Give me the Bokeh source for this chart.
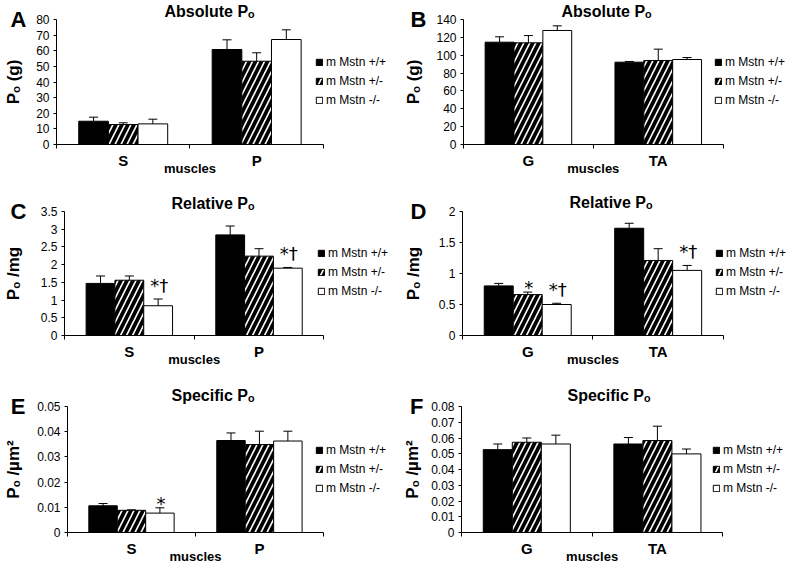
from bokeh.plotting import figure
from bokeh.layouts import column, row
from bokeh.models import (Range1d, FixedTicker, LinearAxis, Legend, LegendItem,
                          Whisker, TeeHead, ColumnDataSource)
from bokeh.core.properties import value
from bokeh.embed import file_html
from bokeh.resources import INLINE

FONT = "Liberation Sans"
SERIES = ["m Mstn +/+", "m Mstn +/-", "m Mstn -/-"]

# ---------------- data ----------------
A_MUSCLES = ["S", "P"]
A_MEAN = [[14.9, 60.8], [12.8, 53.3], [13.2, 67.2]]
A_SEM = [[2.6, 6.2], [1.1, 5.4], [3.0, 6.2]]
A_SIG = [["", ""], ["", ""], ["", ""]]
A_YTICKS = [0, 10, 20, 30, 40, 50, 60, 70, 80]
A_YLABELS = ["0", "10", "20", "30", "40", "50", "60", "70", "80"]

B_MUSCLES = ["G", "TA"]
B_MEAN = [[114.6, 92.2], [113.9, 94.1], [127.7, 95.2]]
B_SEM = [[6.0, 0.8], [8.1, 12.7], [5.2, 2.2]]
B_SIG = [["", ""], ["", ""], ["", ""]]
B_YTICKS = [0, 20, 40, 60, 80, 100, 120, 140]
B_YLABELS = ["0", "20", "40", "60", "80", "100", "120", "140"]

C_MUSCLES = ["S", "P"]
C_MEAN = [[1.47, 2.84], [1.56, 2.24], [0.84, 1.90]]
C_SEM = [[0.21, 0.25], [0.12, 0.21], [0.19, 0.02]]
C_SIG = [["", ""], ["", ""], ["*†", "*†"]]
C_YTICKS = [0, 0.5, 1, 1.5, 2, 2.5, 3, 3.5]
C_YLABELS = ["0", "0.5", "1", "1.5", "2", "2.5", "3", "3.5"]

D_MUSCLES = ["G", "TA"]
D_MEAN = [[0.80, 1.73], [0.66, 1.21], [0.50, 1.05]]
D_SEM = [[0.04, 0.08], [0.04, 0.19], [0.02, 0.08]]
D_SIG = [["", ""], ["*", ""], ["*†", "*†"]]
D_YTICKS = [0, 0.5, 1, 1.5, 2]
D_YLABELS = ["0", "0.5", "1", "1.5", "2"]

E_MUSCLES = ["S", "P"]
E_MEAN = [[0.0106, 0.0365], [0.0088, 0.0349], [0.0077, 0.0363]]
E_SEM = [[0.0009, 0.0030], [0.0002, 0.0053], [0.0021, 0.0039]]
E_SIG = [["", ""], ["", ""], ["*", ""]]
E_YTICKS = [0, 0.01, 0.02, 0.03, 0.04, 0.05]
E_YLABELS = ["0", "0.01", "0.02", "0.03", "0.04", "0.05"]

F_MUSCLES = ["G", "TA"]
F_MEAN = [[0.0526, 0.0562], [0.0573, 0.0584], [0.0562, 0.0499]]
F_SEM = [[0.0036, 0.0041], [0.0027, 0.0091], [0.0056, 0.0031]]
F_SIG = [["", ""], ["", ""], ["", ""]]
F_YTICKS = [0, 0.01, 0.02, 0.03, 0.04, 0.05, 0.06, 0.07, 0.08]
F_YLABELS = ["0", "0.01", "0.02", "0.03", "0.04", "0.05", "0.06", "0.07", "0.08"]

W = 400
BR = 2            # frame runs almost to the right edge (legend lives inside it)
AXIS_END = 322    # x pixel where the category axis ends
LEGEND_X = 311
BAR_W = 2 / 9
OFFSETS = [-2 / 9, 0, 2 / 9]
STYLES = [
    dict(fill_color="black"),
    dict(fill_color="white", hatch_pattern="/", hatch_color="black", hatch_scale=12, hatch_weight=3.8),
    dict(fill_color="white"),
]


def make_panel(letter, title, ylabel, cats, means, sems, sigs, yticks, ylabels,
               h, bl, bt, bb, letter_standoff, title_offset, title_standoff):
    n = len(cats)
    x_end = n * (W - BR - bl) / (AXIS_END - bl)
    p = figure(width=W, height=h, output_backend="svg", toolbar_location=None,
               x_range=Range1d(0, x_end), y_range=Range1d(yticks[0], yticks[-1]),
               min_border_left=bl, min_border_right=BR, min_border_top=bt, min_border_bottom=bb,
               x_axis_type=None, y_axis_type=None, title=title)
    p.outline_line_color = None
    p.background_fill_color = "white"
    p.border_fill_color = "white"

    p.title.align = "left"
    p.title.offset = title_offset
    p.title.standoff = title_standoff
    p.title.vertical_align = "bottom"
    p.title.text_font = FONT
    p.title.text_font_size = "16px"
    p.title.text_font_style = "bold"
    p.title.text_color = "black"

    # value axis (next to the plot area)
    yax = LinearAxis(ticker=FixedTicker(ticks=yticks, minor_ticks=[]),
                     major_label_overrides={t: l for t, l in zip(yticks, ylabels)})
    yax.axis_line_color = "black"
    yax.major_tick_line_color = "black"
    yax.major_tick_out = 3
    yax.major_tick_in = 0
    yax.minor_tick_line_color = None
    yax.major_label_standoff = 4
    yax.major_label_text_font = FONT
    yax.major_label_text_font_size = "12px"
    yax.major_label_text_color = "black"
    p.add_layout(yax, "left")

    # outer axis: carries the panel letter (at the top) and the axis title
    oax = LinearAxis(ticker=FixedTicker(ticks=[yticks[-1]], minor_ticks=[]),
                     major_label_overrides={yticks[-1]: letter}, axis_label=ylabel)
    oax.axis_line_color = None
    oax.major_tick_line_color = None
    oax.minor_tick_line_color = None
    oax.major_tick_out = 0
    oax.major_tick_in = 0
    oax.major_label_standoff = letter_standoff
    oax.major_label_text_font = FONT
    oax.major_label_text_font_size = "22px"
    oax.major_label_text_font_style = "bold"
    oax.major_label_text_color = "black"
    oax.axis_label_text_font = FONT
    oax.axis_label_text_font_size = "17px"
    oax.axis_label_text_font_style = "bold"
    oax.axis_label_text_color = "black"
    oax.axis_label_standoff = -15
    p.add_layout(oax, "left")

    centers = [i + 0.5 for i in range(n)]
    xax = LinearAxis(ticker=FixedTicker(ticks=centers, minor_ticks=list(range(n + 1))),
                     major_label_overrides={c: nm for c, nm in zip(centers, cats)},
                     bounds=(0, n))
    xax.axis_line_color = "black"
    xax.major_tick_line_color = None
    xax.major_tick_out = 0
    xax.major_tick_in = 0
    xax.minor_tick_line_color = "black"
    xax.minor_tick_out = 4
    xax.minor_tick_in = 0
    xax.major_label_standoff = 3
    xax.major_label_text_font = FONT
    xax.major_label_text_font_size = "15px"
    xax.major_label_text_font_style = "bold"
    xax.major_label_text_color = "black"
    p.add_layout(xax, "below")

    # second axis below: the axis title centred under the categories
    mid = n / 2
    tax = LinearAxis(ticker=FixedTicker(ticks=[mid], minor_ticks=[]),
                     major_label_overrides={mid: "muscles"})
    tax.axis_line_color = None
    tax.major_tick_line_color = None
    tax.minor_tick_line_color = None
    tax.major_tick_out = 0
    tax.major_tick_in = 0
    tax.major_label_standoff = -11
    tax.major_label_text_font = FONT
    tax.major_label_text_font_size = "13px"
    tax.major_label_text_font_style = "bold"
    tax.major_label_text_color = "black"
    p.add_layout(tax, "below")

    items = []
    for si in range(3):
        xs = [c + OFFSETS[si] for c in centers]
        upper = [m + s for m, s in zip(means[si], sems[si])]
        dy = [-3 if "†" in s else 6 for s in sigs[si]]
        src = ColumnDataSource(dict(x=xs, top=means[si], upper=upper, sig=sigs[si], dy=dy))
        r = p.vbar(x="x", top="top", bottom=0, width=BAR_W, source=src,
                   line_color="black", line_width=1, **STYLES[si])
        wk = Whisker(source=src, base="x", lower="top", upper="upper", dimension="height",
                     line_color="black", line_width=1, level="annotation",
                     upper_head=TeeHead(size=9, line_color="black", line_width=1), lower_head=None)
        p.add_layout(wk)
        p.text(x="x", y="upper", text="sig", source=src, text_font=value("DejaVu Sans"),
               text_font_size="18px", text_align="center", text_baseline="bottom",
               text_color="black", x_offset=1, y_offset="dy")
        items.append(LegendItem(label=SERIES[si], renderers=[r]))

    leg = Legend(items=items, location=(LEGEND_X - bl, 37), orientation="vertical",
                 glyph_width=8, glyph_height=8, label_standoff=3, spacing=5,
                 label_height=14, label_width=10,
                 padding=0, margin=0, border_line_color=None, background_fill_alpha=0,
                 label_text_font=FONT, label_text_font_size="12px", label_text_color="black")
    p.add_layout(leg)
    return p


SUB_O = "\u2092"
pA = make_panel("A", "Absolute P" + SUB_O, "P" + SUB_O + " (g)", A_MUSCLES, A_MEAN, A_SEM, A_SIG,
                A_YTICKS, A_YLABELS, 190, 52, 19, 46, 7, 108, -1)
pB = make_panel("B", "Absolute P" + SUB_O, "P" + SUB_O + " (g)", B_MUSCLES, B_MEAN, B_SEM, B_SIG,
                B_YTICKS, B_YLABELS, 190, 60, 19, 46, 7, 98, -1)
pC = make_panel("C", "Relative P" + SUB_O, "P" + SUB_O + " /mg", C_MUSCLES, C_MEAN, C_SEM, C_SIG,
                C_YTICKS, C_YLABELS, 190, 58, 20, 45, 11, 107, -1)
pD = make_panel("D", "Relative P" + SUB_O, "P" + SUB_O + " /mg", D_MUSCLES, D_MEAN, D_SEM, D_SIG,
                D_YTICKS, D_YLABELS, 190, 58, 21, 44, 9, 107, 1)
pE = make_panel("E", "Specific P" + SUB_O, "P" + SUB_O + " /\u00b5m\u00b2", E_MUSCLES, E_MEAN, E_SEM, E_SIG,
                E_YTICKS, E_YLABELS, 187, 63, 26, 35, 9, 104, 5)
pF = make_panel("F", "Specific P" + SUB_O, "P" + SUB_O + " /\u00b5m\u00b2", F_MUSCLES, F_MEAN, F_SEM, F_SIG,
                F_YTICKS, F_YLABELS, 187, 60, 26, 35, 5, 106, 5)

layout = column(row(pA, pB), row(pC, pD), row(pE, pF))

with open("out.html", "w") as f:
    f.write(file_html(layout, INLINE))
